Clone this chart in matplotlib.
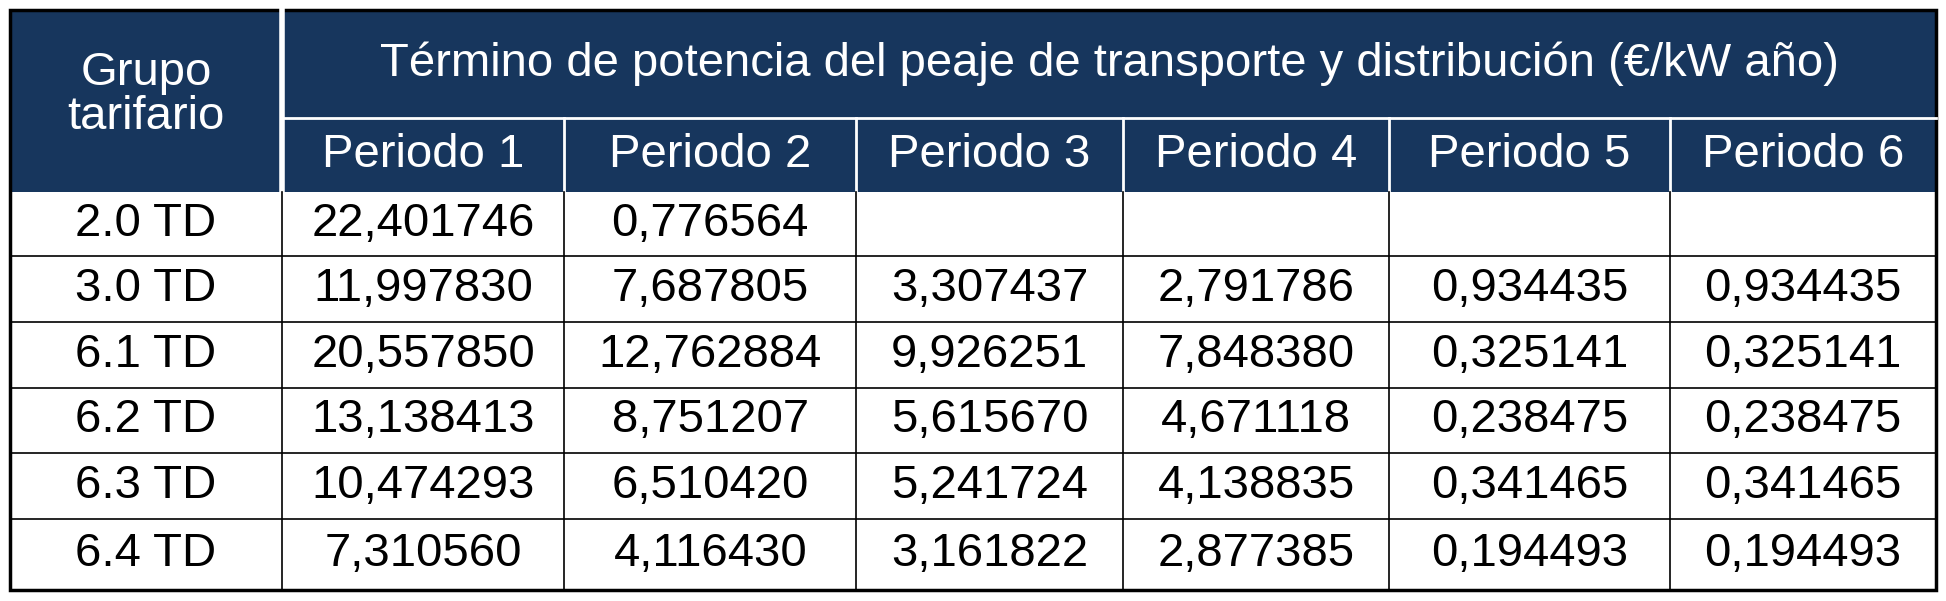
import matplotlib
matplotlib.use("Agg")
import matplotlib.pyplot as plt
from matplotlib.patches import Rectangle

groups = ["2.0 TD", "3.0 TD", "6.1 TD", "6.2 TD", "6.3 TD", "6.4 TD"]
periods = ["Periodo 1", "Periodo 2", "Periodo 3", "Periodo 4", "Periodo 5", "Periodo 6"]
values = [
    ["22,401746", "0,776564", "", "", "", ""],
    ["11,997830", "7,687805", "3,307437", "2,791786", "0,934435", "0,934435"],
    ["20,557850", "12,762884", "9,926251", "7,848380", "0,325141", "0,325141"],
    ["13,138413", "8,751207", "5,615670", "4,671118", "0,238475", "0,238475"],
    ["10,474293", "6,510420", "5,241724", "4,138835", "0,341465", "0,341465"],
    ["7,310560", "4,116430", "3,161822", "2,877385", "0,194493", "0,194493"],
]
title = "Término de potencia del peaje de transporte y distribución (€/kW año)"
group_header = "Grupo\ntarifario"

xs = [0.005, 0.145, 0.290, 0.440, 0.577, 0.714, 0.858, 0.995]
ys = [0.017, 0.196, 0.320, 0.426, 0.536, 0.645, 0.754, 0.864, 0.981]
navy = "#17365D"
fs = 34
font = "Liberation Sans"

fig = plt.figure(figsize=(19.46, 6.01), dpi=100)
ax = fig.add_axes([0, 0, 1, 1])
ax.set_xlim(0, 1); ax.set_ylim(1, 0); ax.axis("off")

ax.add_patch(Rectangle((xs[0], ys[0]), xs[-1]-xs[0], ys[2]-ys[0], color=navy, lw=0))
ax.plot([xs[1], xs[1]], [ys[0], ys[2]], color="white", lw=4)
ax.plot([xs[1], xs[-1]], [ys[1], ys[1]], color="white", lw=2)
for x in xs[2:-1]:
    ax.plot([x, x], [ys[1], ys[2]], color="white", lw=2)
ax.text((xs[0]+xs[1])/2, (ys[0]+ys[2])/2 - 0.01, group_header, color="white", ha="center", va="center",
        fontsize=fs, family=font, linespacing=1.0)
ax.text((xs[1]+xs[-1])/2, (ys[0]+ys[1])/2, title, color="white", ha="center", va="center", fontsize=fs, family=font)
for j, p in enumerate(periods):
    ax.text((xs[j+1]+xs[j+2])/2, (ys[1]+ys[2])/2, p, color="white", ha="center", va="center", fontsize=fs, family=font)

for i, g in enumerate(groups):
    yc = (ys[i+2]+ys[i+3])/2
    ax.text((xs[0]+xs[1])/2, yc, g, ha="center", va="center", fontsize=fs, family=font, color="black")
    for j, v in enumerate(values[i]):
        ax.text((xs[j+1]+xs[j+2])/2, yc, v, ha="center", va="center", fontsize=fs, family=font, color="black")
for y in ys[3:-1]:
    ax.plot([xs[0], xs[-1]], [y, y], color="black", lw=1.2)
for x in xs[1:-1]:
    ax.plot([x, x], [ys[2], ys[-1]], color="black", lw=1.2)
ax.add_patch(Rectangle((xs[0], ys[0]), xs[-1]-xs[0], ys[-1]-ys[0], fill=False, ec="black", lw=2.5))

fig.savefig("out.png", dpi=100, facecolor="white")
